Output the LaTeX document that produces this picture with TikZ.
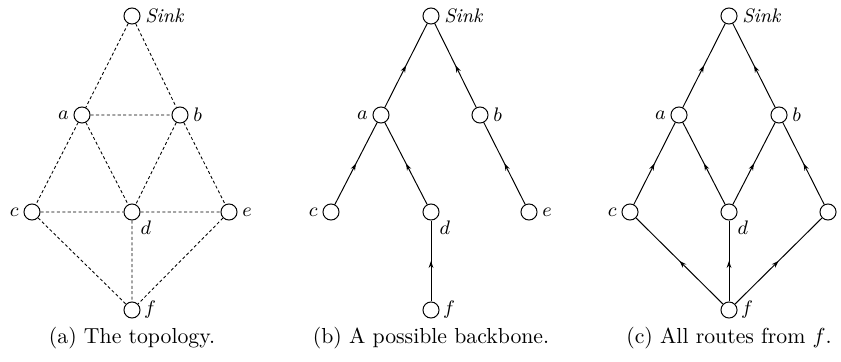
\documentclass[tikz,border=0pt]{standalone}
\usetikzlibrary{arrows.meta,decorations.markings}
\begin{document}
\begin{tikzpicture}[x=0.46pt,y=-0.46pt,
  nd/.style={circle,draw,minimum size=7.4pt,inner sep=0pt,line width=0.45pt},
  lbl/.style={font=\small,inner sep=2pt},
  dsh/.style={line width=0.4pt,dash pattern=on 1.4pt off 1.1pt},
  edg/.style={line width=0.45pt},
  midarrow/.style={edg,postaction={decorate},decoration={markings,mark=at position 0.5 with {\arrow{Stealth[length=3.2pt,width=2.2pt]}}}},
  captext/.style={font=\normalsize,anchor=base}]
\useasboundingbox (0,0) rectangle (841,362);
% ---------- (a) ----------
\node[nd,label={[lbl]east:\textit{Sink}}] (s1) at (132,16) {};
\node[nd,label={[lbl]west:$a$}] (a1) at (82,115) {};
\node[nd,label={[lbl]east:$b$}] (b1) at (180,115) {};
\node[nd,label={[lbl]west:$c$}] (c1) at (32,212) {};
\node[nd,label={[lbl,inner sep=1pt]south east:$d$}] (d1) at (132,212) {};
\node[nd,label={[lbl]east:$e$}] (e1) at (229,212) {};
\node[nd,label={[lbl,inner sep=1.5pt]east:$f$}] (f1) at (132,310) {};
\draw[dsh] (s1)--(a1) (s1)--(b1) (a1)--(b1) (a1)--(c1) (a1)--(d1) (b1)--(d1) (b1)--(e1)
  (c1)--(d1) (d1)--(e1) (c1)--(f1) (d1)--(f1) (e1)--(f1);
\node[captext] (ca) at (132,343) {(a) The topology.};
% ---------- (b) ----------
\node[nd,label={[lbl]east:\textit{Sink}}] (s2) at (431,16) {};
\node[nd,label={[lbl]west:$a$}] (a2) at (381,115) {};
\node[nd,label={[lbl]east:$b$}] (b2) at (480,115) {};
\node[nd,label={[lbl]west:$c$}] (c2) at (331,212) {};
\node[nd,label={[lbl,inner sep=1pt]south east:$d$}] (d2) at (431,212) {};
\node[nd,label={[lbl]east:$e$}] (e2) at (529,212) {};
\node[nd,label={[lbl,inner sep=1.5pt]east:$f$}] (f2) at (431,310) {};
\draw[midarrow] (a2)--(s2);
\draw[midarrow] (b2)--(s2);
\draw[midarrow] (c2)--(a2);
\draw[midarrow] (d2)--(a2);
\draw[midarrow] (e2)--(b2);
\draw[midarrow] (f2)--(d2);
\node[captext] (cb) at (431,343) {(b) A possible backbone.};
% ---------- (c) ----------
\node[nd,label={[lbl]east:\textit{Sink}}] (s3) at (729,16) {};
\node[nd,label={[lbl]west:$a$}] (a3) at (679,115) {};
\node[nd,label={[lbl]east:$b$}] (b3) at (779,115) {};
\node[nd,label={[lbl]west:$c$}] (c3) at (630,212) {};
\node[nd,label={[lbl,inner sep=1pt]south east:$d$}] (d3) at (729,212) {};
\node[nd,label={[lbl]east:$e$}] (e3) at (828,212) {};
\node[nd,label={[lbl,inner sep=1.5pt]east:$f$}] (f3) at (729,310) {};
\draw[midarrow] (a3)--(s3);
\draw[midarrow] (b3)--(s3);
\draw[midarrow] (c3)--(a3);
\draw[midarrow] (d3)--(a3);
\draw[midarrow] (d3)--(b3);
\draw[midarrow] (e3)--(b3);
\draw[midarrow] (f3)--(c3);
\draw[midarrow] (f3)--(d3);
\draw[midarrow] (f3)--(e3);
\node[captext] (cc) at (729,343) {(c) All routes from $f$.};
\end{tikzpicture}
\end{document}
